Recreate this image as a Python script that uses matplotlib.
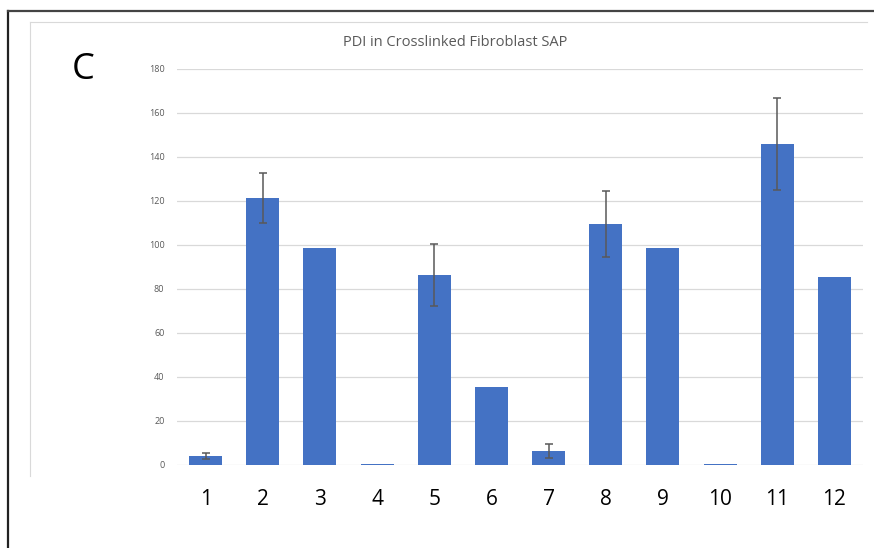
import numpy as np
from matplotlib import pyplot as plt
from matplotlib.lines import Line2D

# PDI values per sample, with standard error (0 = no error bar)
samples = ['1', '2', '3', '4', '5', '6', '7', '8', '9', '10', '11', '12']
pdi = [4.2, 121.5, 98.5, 0.4, 86.5, 35.6, 6.2, 109.5, 98.5, 0.4, 145.8, 85.6]
pdi_err = [1.4, 11.4, 0, 0, 14.0, 0, 3.2, 15.0, 0, 0, 21.0, 0]
yticks = [0, 20, 40, 60, 80, 100, 120, 140, 160, 180]

plt.rcParams['font.family'] = ['Open Sans', 'DejaVu Sans']

fig = plt.figure(figsize=(8.74, 5.48), dpi=100)
W, H = 874, 548

# outer black panel frame and the light gray chart-area border
fig.add_artist(Line2D([8 / W, 8 / W], [0, 1 - 11 / H], color='#222222', lw=1.6, transform=fig.transFigure))
fig.add_artist(Line2D([8 / W, 1], [1 - 11 / H, 1 - 11 / H], color='#444444', lw=1.6, transform=fig.transFigure))
fig.add_artist(Line2D([30 / W, 30 / W], [1 - 476 / H, 1 - 22 / H], color='#d9d9d9', lw=0.8, transform=fig.transFigure))
fig.add_artist(Line2D([30 / W, 867 / W], [1 - 22 / H, 1 - 22 / H], color='#d9d9d9', lw=0.8, transform=fig.transFigure))

ax = fig.add_axes([177 / W, 1 - 465 / H, (863 - 177) / W, (465 - 69) / H])

x = np.arange(len(samples))
errs = [e if e > 0 else np.nan for e in pdi_err]
ax.bar(x, pdi, width=0.575, color='#4472c4', zorder=3)
ax.errorbar(x, pdi, yerr=errs, fmt='none', ecolor='#595959', elinewidth=1.1,
            capsize=3, capthick=1.1, zorder=4)

ax.set_xlim(-0.5, len(samples) - 0.5)
ax.set_ylim(0, 180)
ax.set_yticks(yticks)
ax.set_yticklabels([str(t) for t in yticks], fontsize=6.5, color='#595959')
ax.set_xticks(x)
ax.set_xticklabels(samples, fontsize=15, color='black')
ax.tick_params(axis='y', length=0, pad=9)
ax.tick_params(axis='x', length=0, pad=17)
ax.grid(axis='y', color='#d9d9d9', lw=0.9, zorder=0)
for s in ax.spines.values():
    s.set_visible(False)

fig.text(455 / W, 1 - 43 / H, 'PDI in Crosslinked Fibroblast SAP', ha='center', va='center',
         fontsize=10.5, color='#595959')
fig.text(83 / W, 1 - 70 / H, 'C', ha='center', va='center', fontsize=26, color='black')

fig.savefig('out.png', dpi=100)
